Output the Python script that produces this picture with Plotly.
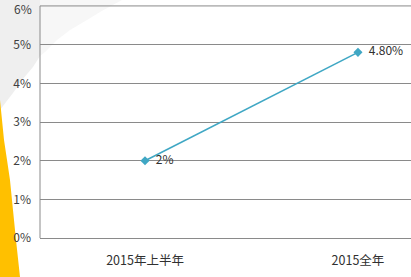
import plotly.graph_objects as go

categories = ["2015年上半年", "2015全年"]
values = [0.02, 0.048]
labels = ["2%", "4.80%"]
yticks = [0, 0.01, 0.02, 0.03, 0.04, 0.05, 0.06]
yticklabels = ["0%", "1%", "2%", "3%", "4%", "5%", "6%"]

W, H = 411, 277
L, R, T, B = 40, 0, 4, 37
pw, ph = W - L - R, H - T - B

def px(x, y):
    return (x - L) / pw, (H - B - y) / ph

def path(points):
    pts = [px(x, y) for x, y in points]
    return "M " + " L ".join(f"{a:.4f},{b:.4f}" for a, b in pts) + " Z"

gray_out = [(0, 0), (40, 0), (40, 56), (33, 67), (22, 80), (13, 93), (6, 102), (0, 110)]
gray_in = [(40, 0), (122, 0), (100, 12), (87, 20), (70, 30), (57, 40), (45, 52), (40, 56)]
yellow_pts = [(0, 100), (2, 120), (4, 140), (7, 160), (10, 180), (13, 210),
              (16, 240), (20, 277), (0, 277)]

tickfont = dict(family="Noto Sans CJK SC, sans-serif", size=12, color="#404040")

fig = go.Figure()
fig.add_trace(go.Scatter(
    x=categories, y=values, mode="lines+markers+text",
    text=["  " + t for t in labels], textposition="middle right",
    textfont=dict(family="Noto Sans CJK SC, sans-serif", size=12, color="#303030"),
    line=dict(color="#3FA7C4", width=1.6),
    marker=dict(symbol="diamond", size=7, color="#3FA7C4"),
    cliponaxis=False, showlegend=False,
))

fig.update_layout(
    width=W, height=H,
    margin=dict(l=L, r=R, t=T, b=B),
    paper_bgcolor="white",
    plot_bgcolor="rgba(0,0,0,0)",
    shapes=[
        dict(type="path", xref="paper", yref="paper", path=path(gray_out),
             fillcolor="#efefef", line=dict(width=0), layer="below"),
        dict(type="path", xref="paper", yref="paper", path=path(gray_in),
             fillcolor="#f7f7f7", line=dict(width=0), layer="below"),
        dict(type="path", xref="paper", yref="paper", path=path(yellow_pts),
             fillcolor="#FFC000", line=dict(width=0), layer="below"),
    ],
    xaxis=dict(
        type="category", range=[-0.493, 1.249],
        showgrid=False, zeroline=False, showline=False, ticks="",
        tickfont=dict(family="Noto Sans CJK SC, sans-serif", size=12.5, color="#303030"),
        ticklabelstandoff=11,
    ),
    yaxis=dict(
        range=[-0.0005, 0.0605], tickvals=yticks[:-1], ticktext=yticklabels[:-1],
        showgrid=True, gridcolor="#8a8a8a", gridwidth=1,
        zeroline=False, showline=False,
        ticks="",
        tickfont=tickfont,
        ticklabelstandoff=8,
    ),
)
fig.add_shape(type="line", xref="paper", yref="y", x0=0, x1=1, y0=yticks[-1], y1=yticks[-1],
              line=dict(color="#8a8a8a", width=1), layer="above")
fig.add_shape(type="line", xref="paper", yref="y", x0=0, x1=0, y0=yticks[0], y1=yticks[-1],
              line=dict(color="#8a8a8a", width=1), layer="above")
fig.add_annotation(xref="paper", yref="y", x=0, y=yticks[-1], text=yticklabels[-1],
                   showarrow=False, xanchor="right", yanchor="middle", xshift=-7, yshift=-3,
                   borderpad=0, font=tickfont)

fig.write_html("out.html")
